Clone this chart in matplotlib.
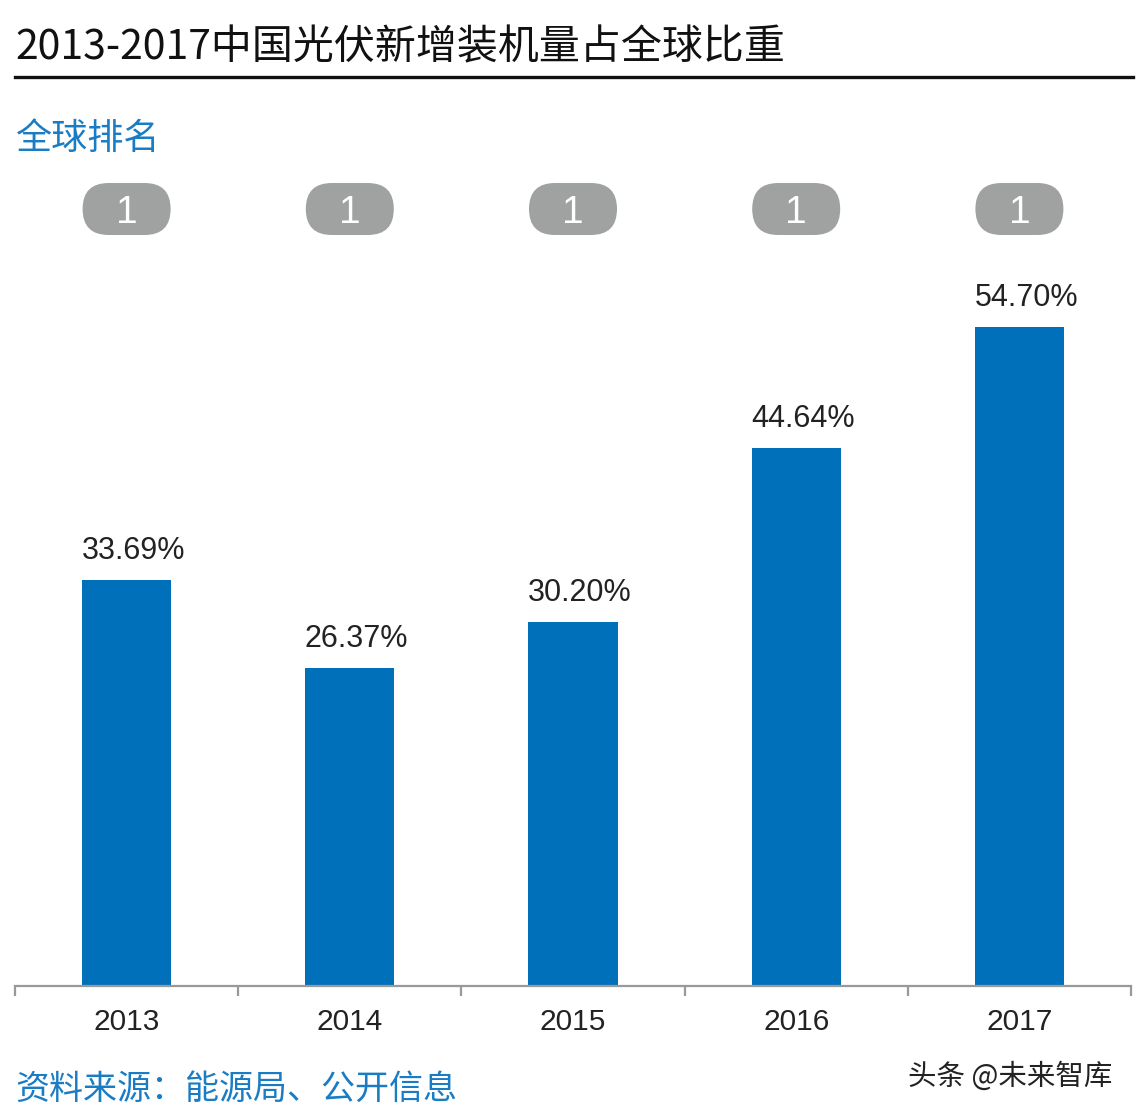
import matplotlib
matplotlib.use('Agg')
import matplotlib.pyplot as plt
from matplotlib.patches import FancyBboxPatch
from matplotlib.lines import Line2D
import numpy as np

# data
years = ['2013', '2014', '2015', '2016', '2017']
share = [33.69, 26.37, 30.20, 44.64, 54.70]
ranks = ['1', '1', '1', '1', '1']

title = '2013-2017中国光伏新增装机量占全球比重'
subtitle = '全球排名'
source = '资料来源：能源局、公开信息'
mark = '头条 @未来智库'

bar_color = '#0070BA'
blue_text = '#1A7DC4'
badge_color = '#A0A2A1'
cjk = ['Noto Sans CJK SC', 'DejaVu Sans']
latin = ['Liberation Sans', 'DejaVu Sans']

W, H = 1144, 1116
fig = plt.figure(figsize=(W / 100, H / 100), dpi=100)

# axes placed in pixels
left, right, base, top = 15, 1131, 986, 160
ax = fig.add_axes([left / W, (H - base) / H, (right - left) / W, (base - top) / H])
ymax = 68.56
ax.set_xlim(-0.5, len(years) - 0.5)
ax.set_ylim(0, ymax)

x = np.arange(len(years))
ax.bar(x, share, width=0.4, color=bar_color, zorder=2)

for xi, v in zip(x, share):
    ax.annotate('%.2f%%' % v, (xi, v), xytext=(5, 10), textcoords='offset points',
                ha='center', va='bottom', fontsize=22, family=latin, color='#222222')

# rank badges (stadium shapes)
px_x = (right - left) / len(years)      # pixels per x unit
px_y = (base - top) / ymax              # pixels per y unit
aspect = px_x / px_y
bw = 88 / px_x
bh = 52 / px_y
yc = (base - 209) / px_y
for xi, r in zip(x, ranks):
    p = FancyBboxPatch((xi - bw / 2, yc - bh / 2), bw, bh,
                       boxstyle='round,pad=0,rounding_size=%f' % (26 / px_x),
                       mutation_aspect=aspect, facecolor=badge_color,
                       edgecolor='none', clip_on=False, zorder=3)
    ax.add_patch(p)
    ax.annotate(r, (xi, yc), xytext=(0, -3), textcoords='offset points',
                ha='center', va='center', fontsize=28, family=latin,
                color='white', zorder=4, annotation_clip=False)

# axes styling
for s in ['top', 'right', 'left']:
    ax.spines[s].set_visible(False)
ax.spines['bottom'].set_color('#999999')
ax.spines['bottom'].set_linewidth(1.6)
ax.set_yticks([])
ax.set_xticks(x)
ax.set_xticklabels(years, fontsize=21.5, family=latin, color='#222222')
ax.tick_params(axis='x', which='major', length=0, pad=16)
ax.set_xticks(np.arange(len(years) + 1) - 0.5, minor=True)
ax.tick_params(axis='x', which='minor', length=7, width=1.6, color='#999999', direction='out')

# header and footer
fig.text(15 / W, 1 - 48 / H, title, ha='left', va='center', fontsize=29.5, family=cjk, color='#111111')
fig.add_artist(Line2D([15 / W, 1133 / W], [1 - 77 / H, 1 - 77 / H], color='#111111', linewidth=2.4))
fig.text(15 / W, 1 - 139 / H, subtitle, ha='left', va='center', fontsize=26, family=cjk, color=blue_text)
fig.text(15 / W, 1 - 1089 / H, source, ha='left', va='center', fontsize=24.5, family=cjk, color=blue_text)
fig.text(908 / W, 1 - 1077 / H, mark, ha='left', va='center', fontsize=20.5, family=cjk, color='#222222')

fig.savefig('out.png', dpi=100)
